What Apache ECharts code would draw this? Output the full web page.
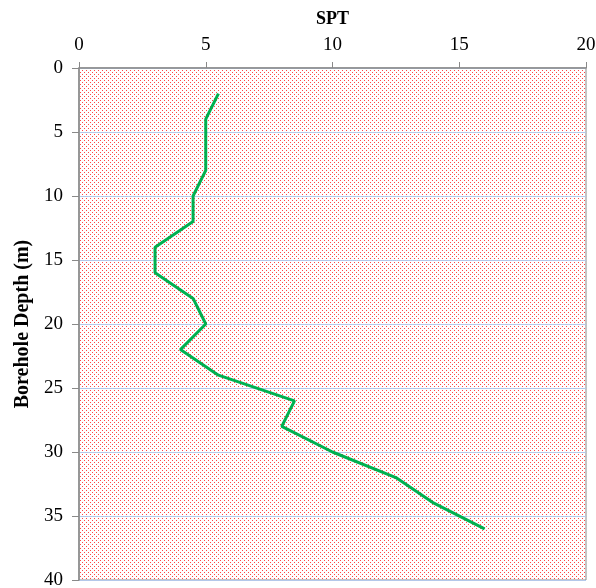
<!DOCTYPE html>
<html><head><meta charset="utf-8">
<script src="https://cdn.jsdelivr.net/npm/echarts@6/dist/echarts.min.js"></script>
<style>html,body{margin:0;padding:0;background:#fff}#c{width:596px;height:588px}</style>
</head><body><div id="c"></div>
<script>
const spt = [5.5, 5, 5, 5, 4.5, 4.5, 3, 3, 4.5, 5, 4, 5.5, 8.5, 8, 10, 12.5, 14, 16];
const depth = [2, 4, 6, 8, 10, 12, 14, 16, 18, 20, 22, 24, 26, 28, 30, 32, 34, 36];
const xTitle = 'SPT';
const yTitle = 'Borehole Depth (m)';

const tile = document.createElement('canvas');
tile.width = 4; tile.height = 4;
const tc = tile.getContext('2d');
tc.fillStyle = '#ff4646';
tc.fillRect(0, 0, 1, 1);
tc.fillRect(2, 2, 1, 1);

const font = 'Liberation Serif';
const chart = echarts.init(document.getElementById('c'), null, {renderer: 'canvas'});
chart.setOption({
  animation: false,
  textStyle: {fontFamily: font},
  grid: {left: 79, top: 68, width: 507, height: 512, show: true, outerBoundsMode: 'none', containLabel: false,
    backgroundColor: {image: tile, repeat: 'repeat'}, borderColor: '#898989', borderWidth: 1},
  xAxis: {type: 'value', position: 'top', min: 0, max: 20, interval: 5,
    name: xTitle, nameLocation: 'middle', nameGap: 40,
    nameTextStyle: {fontFamily: font, fontWeight: 'bold', fontSize: 18, color: '#000'},
    axisLine: {show: true, lineStyle: {color: '#898989', width: 1.5}},
    axisTick: {show: true, length: 6, lineStyle: {color: '#898989'}},
    axisLabel: {fontFamily: font, fontSize: 19, color: '#000', margin: 13},
    splitLine: {show: false}},
  yAxis: {type: 'value', inverse: true, min: 0, max: 40, interval: 5,
    name: yTitle, nameLocation: 'middle', nameGap: 45,
    nameTextStyle: {fontFamily: font, fontWeight: 'bold', fontSize: 20, color: '#000'},
    axisLine: {show: true, lineStyle: {color: '#898989', width: 1.5}},
    axisTick: {show: true, length: 7, lineStyle: {color: '#898989'}},
    axisLabel: {fontFamily: font, fontSize: 19, color: '#000', margin: 16},
    splitLine: {show: true, lineStyle: {color: '#b4c8ea', width: 1.2}}},
  series: [{type: 'line', data: depth.map((d, i) => [spt[i], d]),
    symbol: 'none', lineStyle: {color: '#00b050', width: 3}}]
});
</script></body></html>
